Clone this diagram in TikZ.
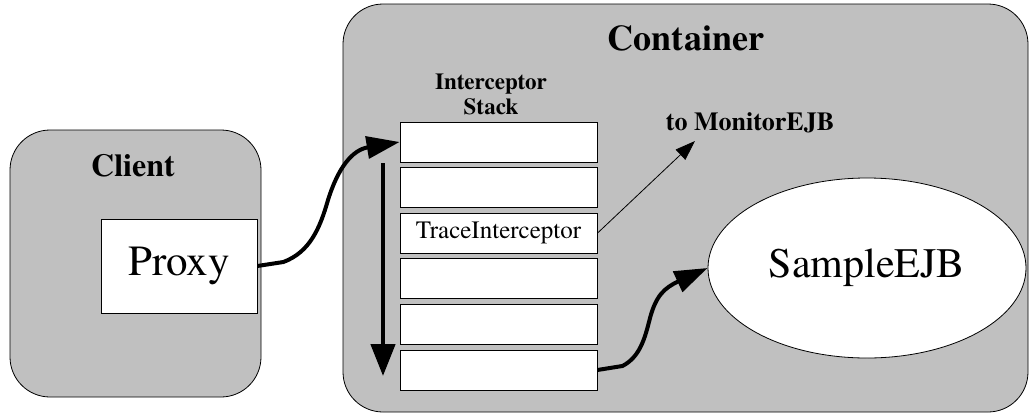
\documentclass[tikz,border=0pt]{standalone}
\usepackage{fontspec}
\setmainfont{TeX Gyre Termes}
\usetikzlibrary{shapes.geometric,arrows.meta}
\definecolor{zone}{HTML}{C0C0C0}
\tikzset{
  zonebox/.style={draw=black, fill=zone, line width=0.8pt, rounded corners=40pt},
  slot/.style={draw=black, fill=white, line width=0.8pt, minimum width=197pt, minimum height=40pt, inner sep=0pt, anchor=center},
  title/.style={font=\bfseries\fontsize{#1}{#1}\selectfont, inner sep=0pt},
  plain/.style={font=\fontsize{#1}{#1}\selectfont, inner sep=0pt},
  flow/.style={line width=4pt, -{Triangle[length=33pt,width=22pt]}},
  hint/.style={line width=0.8pt, -{Triangle[length=20pt,width=14pt]}},
}
\begin{document}
\begin{tikzpicture}[x=1pt,y=-1pt]
\useasboundingbox (0,0) rectangle (1029,413);

% regions
\draw[zonebox] (343,4) rectangle (1028,412);
\draw[zonebox] (10,130) rectangle (261,397);
\node[title=36] (containerlbl) at (686,38) {Container};
\node[title=32] (clientlbl) at (133,166) {Client};

% client side proxy
\node[draw=black, fill=white, line width=0.8pt, minimum width=156pt, minimum height=94pt, inner sep=0pt, plain=43] (proxy) at (179,266) {Proxy};

% interceptor stack
\node[align=center, inner sep=0pt, font=\bfseries\fontsize{23}{25}\selectfont] (stacklbl) at (491,94) {Interceptor\\Stack};
\node[slot] (s1) at (498.5,142) {};
\node[slot] (s2) at (498.5,187.6) {};
\node[slot, plain=25] (s3) at (498.5,233.2) {TraceInterceptor};
\node[slot] (s4) at (498.5,278.8) {};
\node[slot] (s5) at (498.5,324.4) {};
\node[slot] (s6) at (498.5,370) {};

% bean
\node[draw=black, fill=white, line width=0.8pt, ellipse, minimum width=318pt, minimum height=180pt, inner sep=0pt, plain=42] (bean) at (867,268) {SampleEJB};

% monitor target
\node[title=26] (monlbl) at (750,123) {to MonitorEJB};
\coordinate (montip) at (695,141);

% call order through the stack
\coordinate (downtop) at (383,163);
\coordinate (downend) at (383,376);
\draw[line width=4.5pt, -{Triangle[length=32pt,width=24pt]}] (downtop) -- (downend);

% invocation paths
\draw[flow] (proxy.east) -- ++(26,-4)
  .. controls (310,252) and (320,228) .. (328,200)
  .. controls (338,168) and (352,150) .. (s1.west);
\draw[flow] (s6.east) -- ++(25,-4)
  .. controls (640,357) and (645,338) .. (650,318)
  .. controls (656,296) and (664,288) .. (bean.west);
\draw[hint] (s3.east) -- (montip);
\end{tikzpicture}
\end{document}
